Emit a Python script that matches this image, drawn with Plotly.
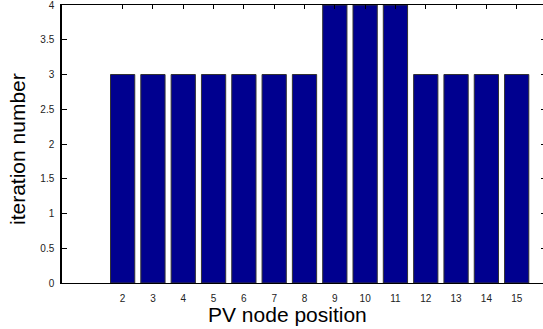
import plotly.graph_objects as go

positions = [2, 3, 4, 5, 6, 7, 8, 9, 10, 11, 12, 13, 14, 15]
iterations = [3, 3, 3, 3, 3, 3, 3, 4, 4, 4, 3, 3, 3, 3]
y_ticks = [0, 0.5, 1, 1.5, 2, 2.5, 3, 3.5, 4]
y_tick_text = ["0", "0.5", "1", "1.5", "2", "2.5", "3", "3.5", "4"]
x_title = "PV node position"
y_title = "iteration number"

FAM = "Liberation Sans, Arial, sans-serif"
font = dict(family=FAM, color="#222")

fig = go.Figure()
fig.add_trace(go.Bar(
    x=positions, y=iterations, width=0.8,
    marker=dict(color="rgb(0,0,143)", line=dict(color="#333333", width=1)),
    showlegend=False,
))
# invisible trace for mirrored tick axes
fig.add_trace(go.Scatter(x=[positions[0]], y=[0], xaxis="x2", yaxis="y2",
                         mode="markers", marker=dict(opacity=0), showlegend=False,
                         hoverinfo="skip"))

xr = [0, 16]
yr = [0, 4]
fig.update_layout(
    width=547, height=329,
    margin=dict(l=62, r=0, t=5, b=46),
    paper_bgcolor="white", plot_bgcolor="white",
    font=font,
    xaxis=dict(range=xr, tickvals=positions, ticktext=[str(p) for p in positions],
               ticks="", showline=True, linecolor="black", linewidth=1, mirror=True,
               showgrid=False, zeroline=False, tickfont=dict(size=10, **font),
               ticklabelstandoff=6, ticklabeloverflow="allow"),
    yaxis=dict(range=yr, tickvals=y_ticks, ticktext=y_tick_text, ticks="inside",
               ticklen=5, tickcolor="black", showline=True, linecolor="black",
               linewidth=1.5, showgrid=False, zeroline=False,
               tickfont=dict(size=10, **font), ticklabelstandoff=4,
               ticklabeloverflow="allow"),
    xaxis2=dict(range=xr, overlaying="x", side="top", tickvals=positions, ticks="inside",
                ticklen=4, tickcolor="black", showticklabels=False, showline=False,
                showgrid=False, zeroline=False, anchor="y"),
    yaxis2=dict(range=yr, overlaying="y", side="right", tickvals=y_ticks, ticks="inside",
                ticklen=6, tickcolor="black", showticklabels=False, showline=False,
                showgrid=False, zeroline=False, anchor="x"),
    annotations=[
        dict(text=x_title, xref="paper", yref="paper", x=0, y=0, xanchor="center",
             yanchor="middle", xshift=225.5, yshift=-31, showarrow=False,
             font=dict(size=21, color="black", family=FAM)),
        dict(text=y_title, xref="paper", yref="paper", x=0, y=0, xanchor="center",
             yanchor="middle", xshift=-45, yshift=134, textangle=-90, showarrow=False,
             font=dict(size=21, color="black", family=FAM)),
    ],
)
fig.write_html("out.html",
               post_script="document.documentElement.style.overflow='hidden';"
                           "document.body.style.overflow='hidden';")
